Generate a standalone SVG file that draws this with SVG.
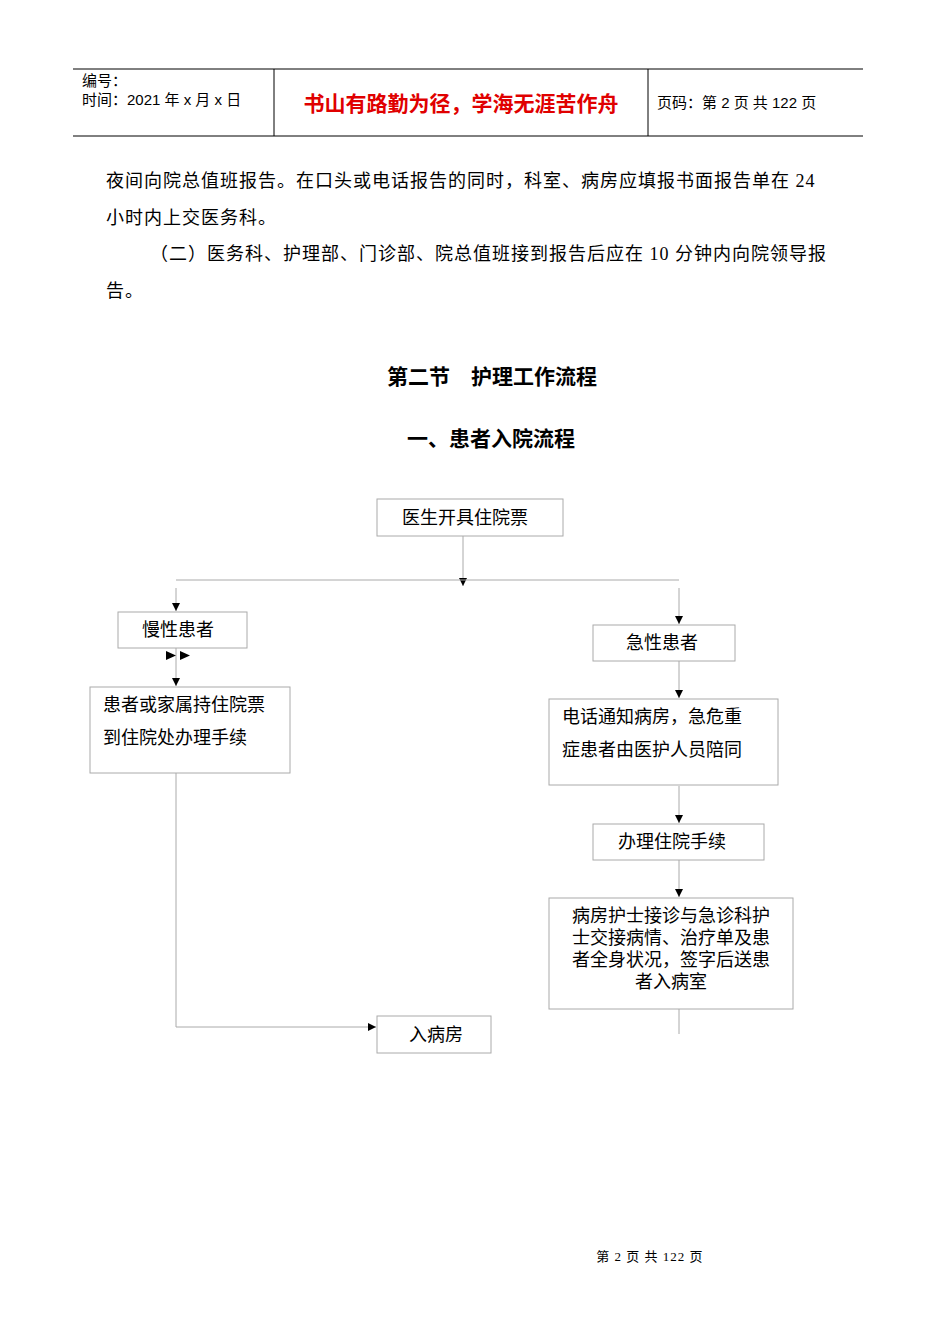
<svg xmlns="http://www.w3.org/2000/svg" width="950" height="1344" viewBox="0 0 950 1344">
<style>
.t{font-family:"Liberation Serif","Noto Sans CJK SC",serif;font-size:18px;fill:#000}
.b{fill:#fff;stroke:#aaa;stroke-width:1}
.c{stroke:#aaa;stroke-width:1;fill:none}
.h{font-family:"Liberation Sans","Noto Sans CJK SC",sans-serif;font-size:15px}
</style>
<defs><marker id="a" viewBox="0 0 10 10" refX="10" refY="5" markerWidth="8" markerHeight="8" markerUnits="userSpaceOnUse" orient="auto"><path d="M0,0L10,5L0,10z" fill="#000"/></marker></defs>
<rect width="950" height="1344" fill="#fff"/>
<g id="header">
<line x1="73" y1="69" x2="863" y2="69" stroke="#000"/>
<line x1="73" y1="136" x2="863" y2="136" stroke="#000"/>
<line x1="274" y1="69" x2="274" y2="136" stroke="#000"/>
<line x1="648" y1="69" x2="648" y2="136" stroke="#000"/>
<text x="82" y="86" class="h">编号：</text>
<text x="82" y="105" class="h">时间：2021 年 x 月 x 日</text>
<text x="461" y="111" text-anchor="middle" font-family="Noto Sans CJK SC,sans-serif" font-size="21" font-weight="bold" fill="#e00000">书山有路勤为径，学海无涯苦作舟</text>
<text x="657" y="108" class="h">页码：第 2 页  共 122 页</text>
</g>
<g id="body" font-family="Liberation Serif,Noto Sans CJK SC,serif" font-size="18" letter-spacing="1">
<text x="106" y="187">夜间向院总值班报告。在口头或电话报告的同时，科室、病房应填报书面报告单在 24</text>
<text x="106" y="224">小时内上交医务科。</text>
<text x="150" y="260">（二）医务科、护理部、门诊部、院总值班接到报告后应在 10 分钟内向院领导报</text>
<text x="106" y="297">告。</text>
</g>
<g id="titles" font-family="Noto Sans CJK SC,sans-serif" font-size="21" font-weight="bold">
<text x="492" y="384" text-anchor="middle">第二节　护理工作流程</text>
<text x="491" y="446" text-anchor="middle">一、患者入院流程</text>
</g>
<g id="connectors">
<line class="c" x1="463" y1="536" x2="463" y2="586" marker-end="url(#a)"/>
<line class="c" x1="176" y1="580" x2="679" y2="580"/>
<line class="c" x1="176" y1="588" x2="176" y2="611" marker-end="url(#a)"/>
<line class="c" x1="679" y1="588" x2="679" y2="624" marker-end="url(#a)"/>
<line class="c" x1="176" y1="648" x2="176" y2="686" marker-end="url(#a)"/>
<path d="M166,651L176,655.5L166,660z M180,651L190,655.5L180,660z" fill="#000"/>
<line class="c" x1="679" y1="661" x2="679" y2="698" marker-end="url(#a)"/>
<line class="c" x1="679" y1="786" x2="679" y2="823" marker-end="url(#a)"/>
<path d="M662,850L671,854.5L662,859z" fill="#000"/>
<line class="c" x1="679" y1="860" x2="679" y2="897" marker-end="url(#a)"/>
<line class="c" x1="679" y1="1009" x2="679" y2="1034"/>
<polyline class="c" points="176,773 176,1027 376,1027" marker-end="url(#a)"/>
</g>
<g id="n1"><rect class="b" x="377" y="499" width="186" height="37"/><text class="t" x="465" y="524" text-anchor="middle">医生开具住院票</text></g>
<g id="n2"><rect class="b" x="118" y="612" width="129" height="36"/><text class="t" x="178" y="636" text-anchor="middle">慢性患者</text></g>
<g id="n3"><rect class="b" x="593" y="625" width="142" height="36"/><text class="t" x="662" y="649" text-anchor="middle">急性患者</text></g>
<g id="n4"><rect class="b" x="90" y="687" width="200" height="86"/><text class="t" x="103" y="711">患者或家属持住院票</text><text class="t" x="103" y="744">到住院处办理手续</text></g>
<g id="n5"><rect class="b" x="549" y="699" width="229" height="86"/><text class="t" x="562" y="723">电话通知病房，急危重</text><text class="t" x="562" y="756">症患者由医护人员陪同</text></g>
<g id="n6"><rect class="b" x="593" y="824" width="171" height="36"/><text class="t" x="672" y="848" text-anchor="middle">办理住院手续</text></g>
<g id="n7"><rect class="b" x="549" y="898" width="244" height="111"/>
<text class="t" x="671" y="922" text-anchor="middle">病房护士接诊与急诊科护</text>
<text class="t" x="671" y="944" text-anchor="middle">士交接病情、治疗单及患</text>
<text class="t" x="671" y="966" text-anchor="middle">者全身状况，签字后送患</text>
<text class="t" x="671" y="988" text-anchor="middle">者入病室</text></g>
<g id="n8"><rect class="b" x="377" y="1016" width="114" height="37"/><text class="t" x="436" y="1041" text-anchor="middle">入病房</text></g>
<text x="650" y="1261" text-anchor="middle" font-family="Liberation Serif,Noto Sans CJK SC,serif" font-size="13" letter-spacing="1">第 2 页 共 122 页</text>
</svg>
